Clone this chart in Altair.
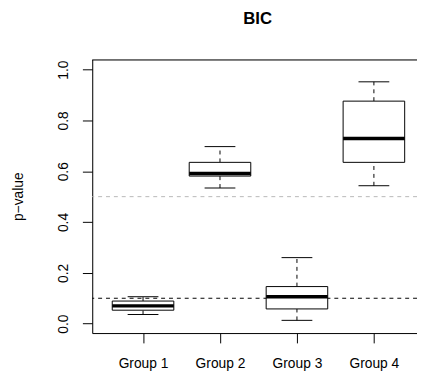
import altair as alt
import pandas as pd

# ---- data ----
groups = ["Group 1", "Group 2", "Group 3", "Group 4"]
whisker_low = [0.036, 0.534, 0.013, 0.543]
q1 = [0.053, 0.581, 0.058, 0.635]
median = [0.070, 0.591, 0.106, 0.729]
q3 = [0.089, 0.635, 0.146, 0.876]
whisker_high = [0.106, 0.697, 0.260, 0.952]

ref_values = [0.5, 0.1]
ref_colors = ["#b8b8b8", "#000000"]

y_ticks = [0.0, 0.2, 0.4, 0.6, 0.8, 1.0]

# ---- layout ----
W, H = 330, 278
FONT = "Liberation Sans"
BOXW = 0.8
CAPW = 0.4

pos = list(range(1, len(groups) + 1))
df = pd.DataFrame({
    "pos": pos,
    "group": groups,
    "lo": whisker_low,
    "q1": q1,
    "med": median,
    "q3": q3,
    "hi": whisker_high,
})
df["bl"] = df["pos"] - BOXW / 2
df["br"] = df["pos"] + BOXW / 2
df["cl"] = df["pos"] - CAPW / 2
df["cr"] = df["pos"] + CAPW / 2

refs = pd.DataFrame({"y": ref_values, "color": ref_colors})

xs = alt.Scale(domain=[0.34, 4.56], nice=False, zero=False)
ys = alt.Scale(domain=[-0.037, 1.04], nice=False, zero=False)

label_expr = "[" + ",".join("'%s'" % g for g in groups) + "][datum.value - 1]"

xaxis = alt.Axis(
    values=pos, labelExpr=label_expr, title=None, grid=False,
    tickSize=10, tickColor="black", domainColor="black",
    labelFont=FONT, labelFontSize=14, labelColor="black", labelPadding=14,
)
yaxis = alt.Axis(
    values=y_ticks, format=".1f", grid=False,
    tickSize=10, tickColor="black", domainColor="black",
    labelFont=FONT, labelFontSize=14, labelColor="black",
    labelAngle=270, labelAlign="center", labelBaseline="alphabetic",
    labelPadding=15,
    title="p\u2212value", titleFont=FONT, titleFontSize=14,
    titleFontWeight="normal", titleColor="black",
    titleAngle=270, titleAlign="center", titleBaseline="alphabetic",
    titleX=-71, titleY=H / 2,
)

base = alt.Chart(df)

ref_lines = alt.Chart(refs).mark_rule(strokeWidth=1, strokeDash=[4, 4]).encode(
    y=alt.Y("y:Q", scale=ys, axis=yaxis),
    color=alt.Color("color:N", scale=None),
)

whisk_up = base.mark_rule(color="black", strokeWidth=1, strokeDash=[4, 4]).encode(
    x=alt.X("pos:Q", scale=xs, axis=xaxis),
    y=alt.Y("q3:Q", scale=ys),
    y2="hi",
)
whisk_down = base.mark_rule(color="black", strokeWidth=1, strokeDash=[4, 4]).encode(
    x=alt.X("pos:Q", scale=xs),
    y=alt.Y("lo:Q", scale=ys),
    y2="q1",
)
cap_hi = base.mark_rule(color="black", strokeWidth=1).encode(
    x=alt.X("cl:Q", scale=xs), x2="cr", y=alt.Y("hi:Q", scale=ys)
)
cap_lo = base.mark_rule(color="black", strokeWidth=1).encode(
    x=alt.X("cl:Q", scale=xs), x2="cr", y=alt.Y("lo:Q", scale=ys)
)
boxes = base.mark_rect(fill="white", stroke="black", strokeWidth=1).encode(
    x=alt.X("bl:Q", scale=xs), x2="br",
    y=alt.Y("q1:Q", scale=ys), y2="q3",
)
medians = base.mark_rule(color="black", strokeWidth=3.5).encode(
    x=alt.X("bl:Q", scale=xs), x2="br", y=alt.Y("med:Q", scale=ys)
)
frame_top = alt.Chart(pd.DataFrame({"a": [0]})).mark_rule(
    color="black", strokeWidth=1
).encode(x=alt.value(0), x2=alt.value(W), y=alt.value(0.5))

chart = alt.layer(
    ref_lines, whisk_up, whisk_down, cap_hi, cap_lo, boxes, medians, frame_top
).properties(
    width=W,
    height=H,
    autosize=alt.AutoSizeParams(type="none"),
    padding={"left": 85.6, "top": 49.3, "right": 0, "bottom": 45},
    title=alt.TitleParams(
        "BIC", font=FONT, fontSize=17, fontWeight="bold", color="black",
        offset=32, anchor="middle", frame="group", dx=3,
    ),
).configure_view(stroke=None).configure(background="white")

chart.save("out.html", embed_options={"renderer": "svg", "actions": False})
